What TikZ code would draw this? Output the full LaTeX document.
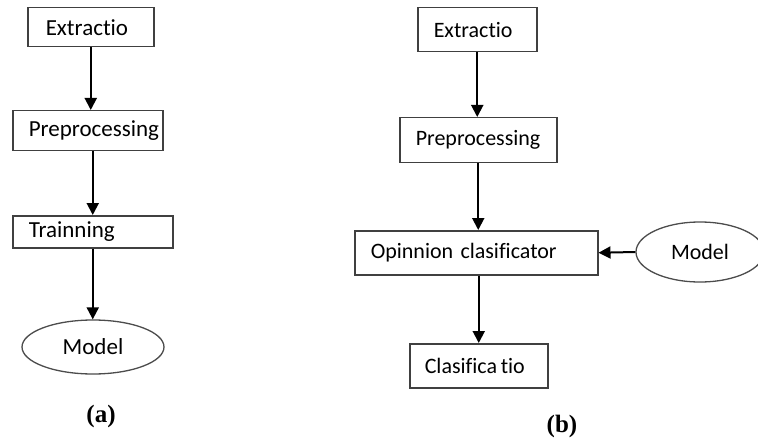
\documentclass[tikz,border=0pt]{standalone}
\usepackage{fontspec}
\setmainfont{Liberation Serif}
\newfontfamily\boxfont{Carlito}[Ligatures=NoCommon]
\usetikzlibrary{shapes.geometric,arrows.meta}
\tikzset{
  pbox/.style={draw=black!75, line width=1.5pt, rectangle, inner ysep=0pt, align=left, anchor=north west},
  lfont/.style={font=\boxfont\fontsize{23pt}{27pt}\selectfont},
  rfont/.style={font=\boxfont\fontsize{22pt}{26pt}\selectfont},
  oval/.style={draw=black!70, line width=1.3pt, ellipse, inner sep=0pt},
  flow/.style={draw=black, line width=2pt, -{Triangle[length=12pt,width=12pt]}},
  figlabel/.style={font=\bfseries\fontsize{25pt}{29pt}\selectfont}
}
\begin{document}
\begin{tikzpicture}[x=1pt,y=-1pt]
\useasboundingbox (0,0) rectangle (758,441);
\clip (0,0) rectangle (758,441);
% (a)
\node[pbox, lfont, inner xsep=18pt, text width=90pt, minimum height=39pt] (a1) at (27,7) {Extractio};
\node[pbox, lfont, inner xsep=16pt, text width=118pt, minimum height=40pt] (a2) at (12,110) {Preprocessing};
\node[pbox, lfont, inner xsep=16pt, text width=128pt, minimum height=32pt] (a3) at (12,215) {Trainning};
\node[oval, lfont, minimum width=142pt, minimum height=54pt] (a4) at (93,347) {Model};
\draw[flow] (a1.south) -- (a1.south |- a2.north);
\draw[flow] (a3.north |- a2.south) -- (a3.north);
\draw[flow] (a3.south) -- (a3.south |- a4.north);
\node[figlabel] (la) at (101,416) {(a)};
% (b)
\node[pbox, rfont, inner xsep=16pt, text width=87pt, minimum height=44pt] (b1) at (417,7) {Extractio};
\node[pbox, rfont, inner xsep=16pt, text width=125pt, minimum height=45pt] (b2) at (399,117) {Preprocessing};
\node[pbox, rfont, inner xsep=16pt, text width=211pt, minimum height=44pt] (b3) at (354,230) {Opinnion clasificator};
\node[oval, rfont, minimum width=128pt, minimum height=60pt] (b4) at (700,252) {Model};
\node[pbox, rfont, inner xsep=15pt, text width=108pt, minimum height=44pt] (b5) at (409,343) {Clasifica\,tio};
\draw[flow] (b1.south) -- (b1.south |- b2.north);
\draw[flow] (b2.south) -- (b2.south |- b3.north);
\draw[flow] (b4.west) -- (b3.east);
\draw[flow] (b5.north |- b3.south) -- (b5.north);
\node[figlabel] (lb) at (562,426) {(b)};
\end{tikzpicture}
\end{document}
